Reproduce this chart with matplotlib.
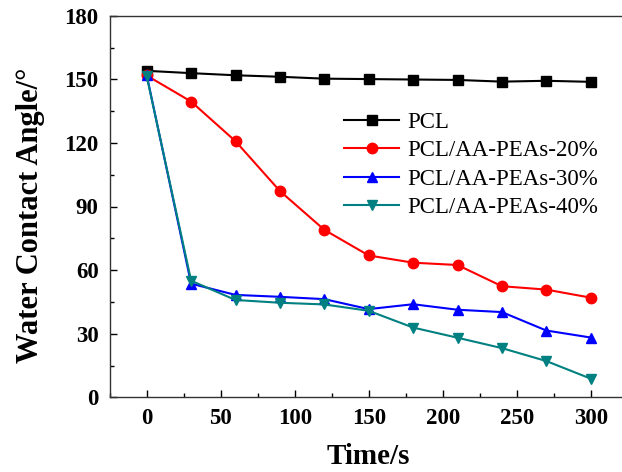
import matplotlib
matplotlib.use("Agg")
import matplotlib.pyplot as plt
from matplotlib.ticker import MultipleLocator

plt.rcParams['font.family'] = ['Liberation Serif', 'DejaVu Serif']
plt.rcParams['mathtext.fontset'] = 'stix'

time_s = [0, 30, 60, 90, 120, 150, 180, 210, 240, 270, 300]
pcl = [154.0, 152.9, 151.9, 151.2, 150.3, 150.1, 149.9, 149.7, 148.9, 149.3, 148.8]
pcl20 = [151.8, 139.5, 120.8, 97.3, 79.0, 66.9, 63.5, 62.4, 52.4, 50.8, 47.0]
pcl30 = [152.0, 53.6, 48.3, 47.4, 46.3, 41.6, 43.9, 41.3, 40.2, 31.5, 28.2]
pcl40 = [151.5, 55.0, 45.9, 44.6, 43.8, 40.8, 32.9, 28.1, 23.2, 17.1, 8.8]
labels = ["PCL", "PCL/AA-PEAs-20%", "PCL/AA-PEAs-30%", "PCL/AA-PEAs-40%"]
colors = ["#000000", "#FF0000", "#0000FF", "#008080"]
markers = ["s", "o", "^", "v"]

W, H = 622, 472
fig = plt.figure(figsize=(W/100, H/100), dpi=100)
left, bottom, top = 109.7, 397.3, 15.7
ax = fig.add_axes([left/W, 1-bottom/H, 518/W, (bottom-top)/H])

for ys, lab, c, m in zip([pcl, pcl20, pcl30, pcl40], labels, colors, markers):
    ax.plot(time_s, ys, color=c, marker=m, markersize=7.5, linewidth=1.5, label=lab)

ax.set_xlim(-25, 325)
ax.set_ylim(0, 180)
ax.xaxis.set_major_locator(MultipleLocator(50))
ax.xaxis.set_minor_locator(MultipleLocator(25))
ax.yaxis.set_major_locator(MultipleLocator(30))
ax.yaxis.set_minor_locator(MultipleLocator(15))
ax.tick_params(which='both', direction='in', top=False, right=False, width=1.0)
ax.tick_params(which='major', length=5, labelsize=16.5, pad=8)
ax.tick_params(which='minor', length=3)
for lbl in ax.get_xticklabels() + ax.get_yticklabels():
    lbl.set_fontweight('bold')
for sp in ax.spines.values():
    sp.set_linewidth(1.0)
    sp.set_color('#333333')

ax.set_xlabel("Time/s", fontsize=21, fontweight='bold', labelpad=10)
ax.set_ylabel("Water Contact Angle/°", fontsize=22, fontweight='bold')
ax.yaxis.set_label_coords((31 - left) / 518, (bottom - 215) / (bottom - top))
ax.yaxis.label.set_va('center')

ax.legend(loc='upper left', bbox_to_anchor=(344/W, 1-112/H), bbox_transform=fig.transFigure,
          frameon=False, fontsize=16.5, handlelength=2.4, handletextpad=0.35,
          labelspacing=0.32, borderpad=0, borderaxespad=0)

fig.savefig("out.png", dpi=100)
